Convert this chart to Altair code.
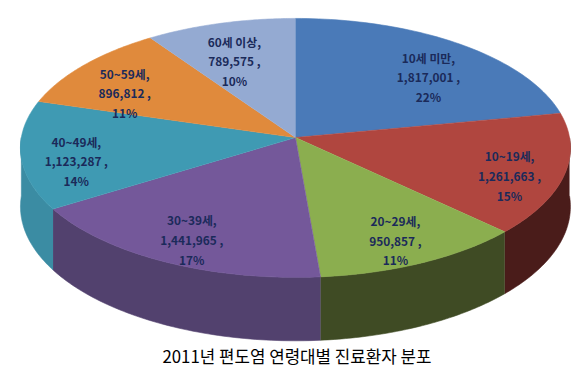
import altair as alt
import pandas as pd

# ---- data ----
categories = ["10세 미만", "10~19세", "20~29세", "30~39세", "40~49세", "50~59세", "60세 이상"]
patients = [1817001, 1261663, 950857, 1441965, 1123287, 896812, 789575]
top_colors = ["#4A7AB8", "#B0463F", "#8BAE4F", "#74589A", "#3F9AB3", "#E08A3C", "#94AAD2"]
side_colors = ["#2F4E78", "#4A1C1A", "#3F4B24", "#52416E", "#3B8CA3", "#9A5A25", "#5E6E8C"]
title_text = "2011년 편도염 연령대별 진료환자 분포"

df = pd.DataFrame({"cat": categories, "value": patients, "idx": list(range(len(categories)))})

# ---- geometry (view pixels) ----
W, H = 564, 337
CX, CY = 290.5, 129.0
RX, RY, K, D = 277.0, 130.0, 0.08, 59.0
N = 60
LFX, LFY, LDY = 0.8, 0.75, -8

xs = alt.X("px:Q", scale=alt.Scale(domain=[0, W], nice=False, zero=False), axis=None)
ys = alt.Y("py:Q", scale=alt.Scale(domain=[0, H], nice=False, zero=False, reverse=True), axis=None)

base = (
    alt.Chart(df)
    .transform_joinaggregate(total="sum(value)")
    .transform_window(cum="sum(value)", sort=[alt.SortField("idx")], frame=[None, 0])
    .transform_calculate(
        a0="2*PI*(datum.cum - datum.value)/datum.total",
        a1="2*PI*datum.cum/datum.total",
    )
)

top = (
    base.transform_calculate(k=f"sequence(0, {N + 2})")
    .transform_flatten(["k"])
    .transform_calculate(
        t=f"datum.a0 + (datum.a1 - datum.a0) * max(datum.k - 1, 0) / {N}",
        f="datum.k == 0 ? 0 : 1",
    )
    .transform_calculate(den=f"1 + {K} * datum.f * cos(datum.t)")
    .transform_calculate(
        px=f"{CX} + {RX} * datum.f * sin(datum.t) / datum.den",
        py=f"{CY} - {RY} * datum.f * cos(datum.t) / datum.den",
    )
    .mark_line(filled=True, strokeWidth=0.6)
    .encode(
        x=xs,
        y=ys,
        color=alt.Color("cat:N", scale=alt.Scale(domain=categories, range=top_colors), legend=None),
        stroke=alt.Stroke("cat:N", scale=alt.Scale(domain=categories, range=top_colors), legend=None),
        order=alt.Order("k:Q"),
    )
)

side = (
    base.transform_calculate(s0="max(datum.a0, PI/2)", s1="min(datum.a1, 3*PI/2)")
    .transform_filter("datum.s1 > datum.s0")
    .transform_calculate(k=f"sequence(0, {2 * N + 2})")
    .transform_flatten(["k"])
    .transform_calculate(
        t=f"datum.k <= {N} ? datum.s0 + (datum.s1 - datum.s0) * datum.k / {N} : datum.s1 - (datum.s1 - datum.s0) * (datum.k - {N + 1}) / {N}",
        drop=f"datum.k <= {N} ? 0 : 1",
    )
    .transform_calculate(den=f"1 + {K} * cos(datum.t)")
    .transform_calculate(
        px=f"{CX} + {RX} * sin(datum.t) / datum.den",
        py=f"{CY} - {RY} * cos(datum.t) / datum.den + datum.drop * {D} / datum.den",
    )
    .mark_line(filled=True, strokeWidth=0.6)
    .encode(
        x=xs,
        y=ys,
        color=alt.Color("cat:N", scale=alt.Scale(domain=categories, range=side_colors), legend=None),
        stroke=alt.Stroke("cat:N", scale=alt.Scale(domain=categories, range=side_colors), legend=None),
        order=alt.Order("k:Q"),
    )
)

labels = (
    base.transform_calculate(
        tm="(datum.a0 + datum.a1) / 2",
        label="datum.cat + ',\\n' + format(datum.value, ',') + ' ,\\n' + format(datum.value / datum.total, '.0%')",
    )
    .transform_calculate(den=f"1 + {K} * 0.78 * cos(datum.tm)")
    .transform_calculate(
        px=f"{CX} + {RX} * {LFX} * sin(datum.tm) / datum.den",
        py=f"{CY} - {RY} * {LFY} * cos(datum.tm) / datum.den + ({LDY})",
    )
    .mark_text(
        font="Noto Sans CJK KR",
        fontSize=12,
        fontWeight="bold",
        color="#1B2A5A",
        lineBreak="\n",
        lineHeight=20,
        align="center",
        baseline="middle",
    )
    .encode(x=xs, y=ys, text="label:N")
)

chart = (
    alt.layer(side, top, labels)
    .resolve_scale(color="independent", stroke="independent")
    .properties(
        width=W,
        height=H,
        padding=0,
        title=alt.TitleParams(
            title_text,
            orient="bottom",
            anchor="middle",
            font="Noto Sans CJK KR",
            fontSize=17,
            fontWeight="normal",
            color="#000000",
            offset=7,
            dx=10,
        ),
    )
    .configure_view(stroke=None)
)

chart.save("out.html", embed_options={"renderer": "svg", "actions": False})
